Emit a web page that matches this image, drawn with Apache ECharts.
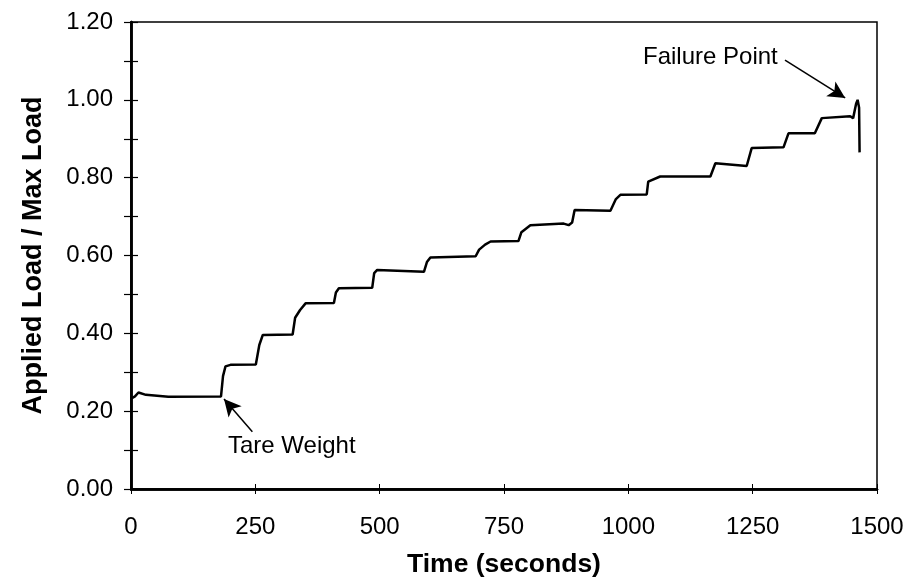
<!DOCTYPE html>
<html>
<head>
<meta charset="utf-8">
<script src="https://cdn.jsdelivr.net/npm/echarts@6/dist/echarts.min.js"></script>
<style>
  html, body { margin: 0; padding: 0; background: #fff; }
  #main { width: 908px; height: 577px; }
</style>
</head>
<body>
<div id="main"></div>
<script>
// time (s) and normalised load
var times = [0, 2, 8, 15, 30, 75, 181, 185, 190, 200, 251, 258, 265, 325, 330, 340, 351, 408, 412, 418,
  485, 489, 495, 589, 595, 602, 693, 700, 712, 723, 779, 785, 803, 870, 880, 887, 892, 964, 975, 984,
  1037, 1040, 1064, 1165, 1175, 1238, 1248, 1312, 1322, 1375, 1389, 1446, 1452, 1458, 1461, 1464, 1465];
var loads = [0.232, 0.236, 0.238, 0.248, 0.242, 0.237, 0.238, 0.29, 0.315, 0.319, 0.32, 0.37, 0.396, 0.397, 0.44, 0.46, 0.477, 0.478, 0.505, 0.516,
  0.517, 0.555, 0.563, 0.558, 0.583, 0.595, 0.598, 0.615, 0.628, 0.636, 0.637, 0.66, 0.678, 0.682, 0.678, 0.685, 0.717, 0.715, 0.745, 0.756,
  0.757, 0.79, 0.803, 0.803, 0.837, 0.83, 0.876, 0.878, 0.914, 0.914, 0.953, 0.958, 0.953, 0.99, 1.0, 0.98, 0.865];

// annotation arrows [tail, head] in data coords
var tareArrow = [[244, 0.147], [187, 0.231]];
var failArrow = [[1315, 1.102], [1436, 1.005]];

var lineData = [];
for (var i = 0; i < times.length; i++) {
  lineData.push([times[i], loads[i]]);
}

var font = 'Liberation Sans, Arial, sans-serif';
var myChart = echarts.init(document.getElementById('main'));

// grid 0 has the real axes with outward ticks; grid 1 is an identical
// copy whose ticks point inward, so together they cross the axis line
function yAx(main) {
  return {
    type: 'value', min: 0, max: 1.2, interval: 0.2, gridIndex: main ? 0 : 1,
    axisLine: { show: true, onZero: false, lineStyle: { color: '#000', width: 2.5 } },
    axisTick: { show: true, inside: !main, length: 7, lineStyle: { color: '#000', width: 1.2 } },
    minorTick: { show: true, splitNumber: 2, length: 7, lineStyle: { color: '#000', width: 1.2 } },
    axisLabel: { show: main, color: '#000', fontSize: 24, fontFamily: font, margin: 18,
      formatter: function (v) { return v.toFixed(2); } },
    splitLine: { show: false },
    name: main ? 'Applied Load / Max Load' : '',
    nameLocation: 'middle', nameGap: 84,
    nameTextStyle: { color: '#000', fontSize: 27, fontWeight: 'bold', fontFamily: font }
  };
}
function xAx(main) {
  return {
    type: 'value', min: 0, max: 1500, interval: 250, gridIndex: main ? 0 : 1,
    axisLine: { show: true, onZero: false, lineStyle: { color: '#000', width: 2.5 } },
    axisTick: { show: true, inside: !main, length: 5, lineStyle: { color: '#000', width: 1 } },
    axisLabel: { show: main, color: '#000', fontSize: 24, fontFamily: font, margin: 26,
      formatter: function (v) { return String(v); } },
    splitLine: { show: false },
    name: main ? 'Time (seconds)' : '',
    nameLocation: 'middle', nameGap: 62,
    nameTextStyle: { color: '#000', fontSize: 26.5, fontWeight: 'bold', fontFamily: font }
  };
}

var gridBox = { left: 131, right: 31, top: 22, bottom: 88, outerBoundsMode: 'none' };

var option = {
  backgroundColor: '#fff',
  animation: false,
  grid: [
    Object.assign({ show: true, borderColor: '#000', borderWidth: 1.5 }, gridBox),
    Object.assign({ show: false }, gridBox)
  ],
  xAxis: [xAx(true), xAx(false)],
  yAxis: [yAx(true), yAx(false)],
  series: [{
    type: 'line',
    data: lineData,
    showSymbol: false,
    lineStyle: { color: '#000', width: 2.5 },
    markLine: {
      silent: true,
      symbol: ['none', 'arrow'],
      symbolSize: [13, 17],
      label: { show: false },
      lineStyle: { color: '#000', width: 1.5, type: 'solid' },
      data: [
        [{ coord: tareArrow[0] }, { coord: tareArrow[1] }],
        [{ coord: failArrow[0] }, { coord: failArrow[1] }]
      ]
    }
  }, {
    // empty series on the tick-only grid
    type: 'line',
    xAxisIndex: 1,
    yAxisIndex: 1,
    data: [],
    silent: true
  }],
  graphic: [
    { type: 'text', left: 228, top: 434, style: { text: 'Tare Weight', fill: '#000', font: '24px ' + font } },
    { type: 'text', left: 643, top: 45, style: { text: 'Failure Point', fill: '#000', font: '24px ' + font } }
  ]
};
myChart.setOption(option);
</script>
</body>
</html>
